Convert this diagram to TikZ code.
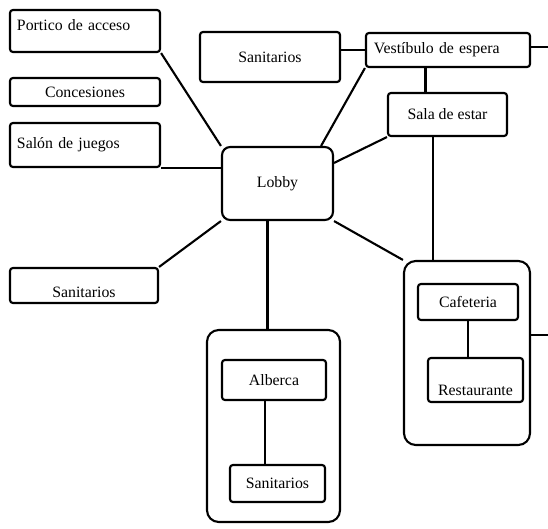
\documentclass[tikz,border=0pt]{standalone}
\usepackage{fontspec}
\setmainfont{Liberation Serif}
\usetikzlibrary{positioning,calc}

% styles for the boxes of the plan
\tikzset{
  caja/.style={draw, line width=1.8pt, rounded corners=2.5pt, inner sep=0pt,
    font=\fontsize{13.5}{16}\selectfont},
  grupo/.style={draw, line width=1.8pt, rounded corners=10pt, inner sep=0pt},
  liga/.style={line width=1.8pt}
}

\begin{document}
\begin{tikzpicture}[x=0.03cm,y=-0.03cm]
      \useasboundingbox (0,0) rectangle (548,529);
      % left column
      \node[caja, minimum width=4.5cm, minimum height=1.26cm, text width=4.08cm,
            align=left, text depth=10pt] (portico) at (85,31) {Portico de acceso};
      \node[caja, minimum width=4.5cm, minimum height=0.84cm] (concesiones) at (85,92) {Concesiones};
      \node[caja, minimum width=4.5cm, minimum height=1.32cm, text width=4.08cm,
            align=left] (salon) at (85,145) {Salón de juegos};
      \node[caja, minimum width=4.44cm, minimum height=1.05cm, text height=21pt] (sanizq) at (84,285.5) {Sanitarios};
      % top row
      \node[caja, minimum width=4.2cm, minimum height=1.5cm] (sanarriba) at (270,57) {Sanitarios};
      \node[caja, minimum width=4.92cm, minimum height=1.02cm, text width=4.44cm,
            align=left] (vestibulo) at (448,50) {Vestíbulo de espera};
      \node[caja, minimum width=3.57cm, minimum height=1.29cm] (sala) at (447.5,114.5) {Sala de estar};
      % the centre
      \node[caja, rounded corners=7pt, minimum width=3.33cm, minimum height=2.19cm] (lobby) at (277.5,183.5) {Lobby};
      % the two groups, drawn first and the boxes inside after
      \node[grupo, minimum width=3.78cm, minimum height=5.52cm] (grpcafe) at (467,353) {};
      \node[caja, minimum width=3.0cm, minimum height=1.08cm] (cafeteria) at (468,302) {Cafeteria};
      \node[caja, minimum width=2.85cm, minimum height=1.32cm, text height=26pt] (restaurante) at (475.5,380) {Restaurante};
      \node[grupo, minimum width=3.99cm, minimum height=5.76cm] (grpalberca) at (273.5,426) {};
      \node[caja, minimum width=3.12cm, minimum height=1.2cm] (alberca) at (274,380) {Alberca};
      \node[caja, minimum width=2.85cm, minimum height=1.11cm] (sanabajo) at (277.5,483.5) {Sanitarios};
      % free ends on the right border
      \coordinate (bordeA) at (548,47);
      \coordinate (bordeB) at (548,335);

      % connections
      \draw[liga] (portico.south east) -- (lobby.north west);
      \draw[liga] (salon.south east) -- (salon.south east -| lobby.west);
      \draw[liga] (sanizq.north east) -- (lobby.south west);
      \draw[liga] (vestibulo.south west) -- ([xshift=-0.39cm]lobby.north east);
      \draw[liga] (vestibulo.west) -- (vestibulo.west -| sanarriba.east);
      \draw[liga] ([xshift=-0.66cm]sala.north) -- ([xshift=-0.66cm]sala.north |- vestibulo.south);
      \draw[liga] (sala.south west) -- (lobby.20);
      \draw[liga] ([xshift=-0.43cm]sala.south) -- ([xshift=-0.43cm]sala.south |- grpcafe.north);
      \draw[liga] (lobby.south east) -- (grpcafe.north west);
      \draw[liga] ([xshift=-0.3cm]lobby.south) -- ([xshift=-0.3cm]lobby.south |- grpalberca.north);
      \draw[liga] (cafeteria.south) -- (cafeteria.south |- restaurante.north);
      \draw[liga] ([xshift=-0.27cm]alberca.south) -- ([xshift=-0.27cm]alberca.south |- sanabajo.north);
      \draw[liga] (vestibulo.east |- bordeA) -- (bordeA);
      \draw[liga] (grpcafe.east |- bordeB) -- (bordeB);
\end{tikzpicture}
\end{document}
